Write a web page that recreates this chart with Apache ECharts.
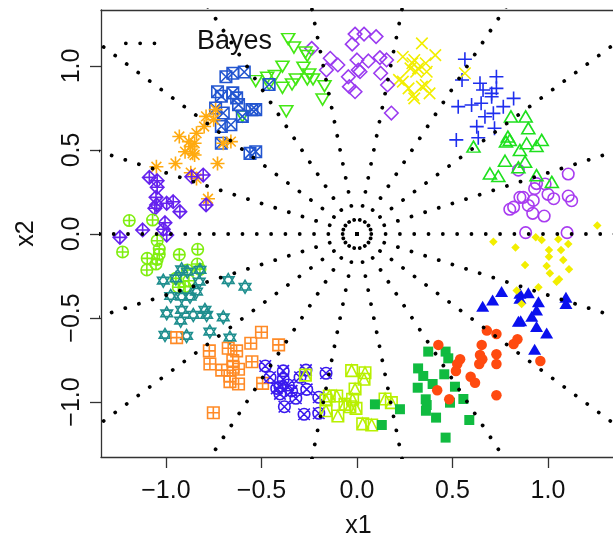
<!DOCTYPE html>
<html>
<head>
<meta charset="utf-8">
<script src="https://cdn.jsdelivr.net/npm/echarts@6/dist/echarts.min.js"></script>
<style>
html, body { margin: 0; padding: 0; background: #fff; }
#chart_id { width: 613px; height: 550px; }
</style>
</head>
<body>
<div id="chart_id"></div>
<script>
// tick labels
var xTicks = [-1.0, -0.5, 0.0, 0.5, 1.0];
var yTicks = [-1.0, -0.5, 0.0, 0.5, 1.0];

// Bayes boundaries (rays from the origin, degrees) and a small stray piece
var bayesAngles = [0, 20, 40, 60, 80, 100, 120, 140, 160, 180, 200, 220, 240, 260, 280, 300, 320, 340];
var bayesStub = [[-1.21, 1.135], [-0.99, 1.135]];

// points of each class, [x1, x2]
var cls01 = [[0.845,0.38],[1.106,0.357],[0.94,0.30],[0.985,0.298],[0.93,0.27],[1.00,0.236],[1.03,0.21],[0.853,0.218],[0.87,0.218],[0.923,0.20],[1.106,0.226],[1.124,0.198],[0.897,0.17],[0.82,0.16],[0.80,0.147],[0.92,0.123],[0.98,0.107],[0.883,0.008],[1.10,0.008]];
var cls02 = [[0.806,0.70],[0.883,0.70],[0.897,0.63],[0.61,0.52],[0.79,0.58],[0.80,0.56],[0.78,0.55],[0.853,0.50],[0.888,0.54],[0.94,0.524],[0.967,0.56],[0.775,0.436],[0.88,0.43],[0.845,0.397],[0.696,0.36],[0.74,0.345],[0.94,0.35],[1.02,0.31]];
var cls03 = [[0.565,1.04],[0.55,0.917],[0.644,0.897],[0.66,0.857],[0.73,0.936],[0.73,0.867],[0.705,0.837],[0.705,0.817],[0.82,0.807],[0.53,0.758],[0.60,0.768],[0.65,0.778],[0.766,0.758],[0.67,0.698],[0.714,0.718],[0.627,0.639],[0.72,0.629],[0.52,0.56],[0.635,0.573]];
var cls04 = [[0.34,1.135],[0.41,1.065],[0.24,1.055],[0.30,1.036],[0.29,1.016],[0.28,0.986],[0.36,1.016],[0.32,0.986],[0.31,0.966],[0.365,0.966],[0.22,0.917],[0.24,0.907],[0.27,0.867],[0.34,0.877],[0.36,0.887],[0.295,0.827],[0.30,0.807],[0.38,0.837],[0.565,0.957]];
var cls05 = [[-0.237,1.105],[-0.14,1.046],[-0.10,1.006],[-0.16,0.976],[-0.01,1.19],[-0.025,1.13],[0.0,1.036],[0.007,0.976],[-0.045,0.936],[-0.04,0.877],[-0.01,0.847],[0.037,1.19],[0.10,1.175],[0.06,1.03],[0.12,1.05],[0.155,1.036],[0.016,0.966],[0.124,0.957],[0.16,0.887],[0.18,0.72]];
var cls06 = [[-0.36,1.16],[-0.33,1.11],[-0.27,1.08],[-0.26,1.06],[-0.39,0.996],[-0.28,0.99],[-0.25,0.95],[-0.53,0.91],[-0.47,0.93],[-0.43,0.94],[-0.39,0.87],[-0.34,0.89],[-0.32,0.92],[-0.26,0.92],[-0.23,0.92],[-0.17,0.88],[-0.18,0.80],[-0.37,0.73],[-0.46,0.89],[-0.60,0.70]];
var cls07 = [[-0.686,0.936],[-0.65,0.957],[-0.59,0.964],[-0.73,0.847],[-0.71,0.82],[-0.65,0.84],[-0.63,0.81],[-0.62,0.77],[-0.55,0.74],[-0.53,0.74],[-0.74,0.75],[-0.70,0.72],[-0.71,0.64],[-0.66,0.65],[-0.71,0.54],[-0.56,0.48],[-0.53,0.49],[-0.46,0.89],[-0.60,0.70]];
var cls08 = [[-0.74,0.74],[-0.79,0.70],[-0.75,0.68],[-0.80,0.64],[-0.84,0.60],[-0.93,0.58],[-0.88,0.55],[-0.85,0.54],[-0.87,0.52],[-0.90,0.49],[-0.86,0.48],[-0.66,0.55],[-0.70,0.54],[-0.95,0.42],[-1.05,0.40],[-0.73,0.42],[-0.87,0.365],[-0.84,0.33],[-0.78,0.21],[-0.85,0.47]];
var cls09 = [[-1.087,0.337],[-1.046,0.317],[-1.046,0.278],[-1.052,0.218],[-1.049,0.173],[-0.996,0.183],[-0.962,0.192],[-0.927,0.133],[-1.058,0.153],[-1.005,0.067],[-1.014,0.028],[-0.996,-0.006],[-1.122,0.024],[-1.241,-0.02],[-0.805,0.351],[-0.865,0.341],[-0.79,0.173]];
var cls10 = [[-1.192,0.08],[-1.07,0.083],[-1.046,-0.04],[-1.227,-0.107],[-1.098,-0.145],[-1.035,-0.121],[-1.046,-0.151],[-1.052,-0.179],[-1.10,-0.214],[-0.93,-0.123],[-0.834,-0.091],[-0.836,-0.179],[-0.822,-0.21],[-0.888,-0.214],[-0.948,-0.264],[-0.88,-0.278],[-0.935,-0.317],[-0.90,-0.314],[-1.035,-0.09]];
var cls11 = [[-0.918,-0.21],[-1.014,-0.278],[-0.948,-0.264],[-0.888,-0.224],[-0.822,-0.214],[-0.826,-0.284],[-0.975,-0.369],[-0.918,-0.373],[-0.874,-0.373],[-0.84,-0.343],[-0.674,-0.274],[-0.586,-0.314],[-0.996,-0.472],[-0.918,-0.452],[-0.796,-0.452],[-0.923,-0.516],[-0.857,-0.482],[-0.787,-0.482],[-0.70,-0.496],[-1.005,-0.601],[-0.892,-0.607],[-0.77,-0.581],[-0.665,-0.617]];
var cls12 = [[-0.944,-0.617],[-0.50,-0.585],[-0.556,-0.65],[-0.41,-0.66],[-0.773,-0.696],[-0.674,-0.68],[-0.63,-0.696],[-0.77,-0.774],[-0.708,-0.81],[-0.65,-0.754],[-0.648,-0.793],[-0.62,-0.805],[-0.665,-0.845],[-0.665,-0.879],[-0.62,-0.893],[-0.55,-0.76],[-0.494,-0.889],[-0.752,-1.064]];
var cls13 = [[-0.48,-0.786],[-0.455,-0.853],[-0.386,-0.815],[-0.386,-0.865],[-0.403,-0.909],[-0.42,-0.919],[-0.36,-0.899],[-0.342,-0.934],[-0.32,-0.978],[-0.267,-0.81],[-0.263,-0.925],[-0.298,-0.853],[-0.162,-0.829],[-0.38,-1.028],[-0.277,-1.073],[-0.2,-1.067],[-0.2,-0.972],[-0.403,-0.952]];
var cls14 = [[-0.028,-0.813],[0.042,-0.826],[0.037,-0.865],[-0.01,-0.923],[-0.023,-0.984],[-0.005,-1.038],[0.147,-0.982],[0.18,-1.004],[0.03,-1.13],[0.077,-1.137],[-0.145,-0.964],[-0.106,-0.964],[-0.162,-0.988],[-0.063,-1.014],[-0.037,-1.028],[-0.162,-1.052],[-0.10,-1.083],[-0.27,-0.84]];
var cls15 = [[0.373,-0.70],[0.464,-0.70],[0.478,-0.74],[0.32,-0.80],[0.347,-0.845],[0.457,-0.835],[0.396,-0.893],[0.318,-0.915],[0.513,-0.909],[0.557,-0.982],[0.36,-0.984],[0.365,-1.018],[0.361,-1.052],[0.414,-1.093],[0.487,-1.004],[0.588,-1.107],[0.464,-1.212],[0.225,-1.043],[0.094,-1.014],[0.13,-1.137]];
var cls16 = [[0.68,-0.575],[0.73,-0.595],[0.426,-0.66],[0.653,-0.66],[0.84,-0.627],[0.82,-0.655],[0.54,-0.746],[0.525,-0.774],[0.644,-0.72],[0.656,-0.746],[0.64,-0.774],[0.73,-0.716],[0.73,-0.774],[0.518,-0.815],[0.595,-0.85],[0.618,-0.885],[0.42,-0.93],[0.483,-0.984],[0.73,-0.96],[0.96,-0.756]];
var cls17 = [[0.757,-0.343],[0.71,-0.393],[0.658,-0.43],[0.853,-0.353],[0.897,-0.35],[0.95,-0.403],[0.94,-0.452],[1.094,-0.377],[1.094,-0.413],[0.857,-0.516],[0.915,-0.49],[0.94,-0.55],[0.993,-0.59],[0.93,-0.686],[0.845,-0.52],[0.853,-0.383]];
var cls18 = [[1.258,0.05],[0.714,-0.046],[0.83,-0.08],[0.936,-0.02],[0.967,-0.036],[1.054,-0.032],[1.106,-0.06],[1.005,-0.095],[1.068,-0.095],[1.005,-0.135],[1.08,-0.155],[0.88,-0.185],[0.993,-0.19],[1.11,-0.21],[1.01,-0.234],[1.058,-0.27],[1.045,-0.284],[0.95,-0.317],[0.836,-0.337],[0.862,-0.417]];

var classData = [cls01, cls02, cls03, cls04, cls05, cls06, cls07, cls08, cls09,
                 cls10, cls11, cls12, cls13, cls14, cls15, cls16, cls17, cls18];

// plotting symbols (like R pch 1..18)
var P_CIRCLE = 'M10,5A5,5,0,1,1,0,5A5,5,0,1,1,10,5Z';
var classStyle = [
	{ sym: 'path://' + P_CIRCLE, size: 11.5, color: '#A83CF0', fill: false },
	{ sym: 'path://M5,0L10,8.66L0,8.66Z', size: [13, 11], color: '#1EE01E', fill: false },
	{ sym: 'path://M5,0L5,10M0,5L10,5', size: 14, color: '#1E2EEE', fill: false },
	{ sym: 'path://M0,0L10,10M10,0L0,10', size: 11.5, color: '#F2EE00', fill: false },
	{ sym: 'path://M5,0L10,5L5,10L0,5Z', size: 13.5, color: '#9A3AF0', fill: false },
	{ sym: 'path://M0,0L10,0L5,8.66Z', size: [13, 11], color: '#44E814', fill: false },
	{ sym: 'path://M0,0L10,0L10,10L0,10ZM0,0L10,10M10,0L0,10', size: 11.5, color: '#2255D0', fill: false },
	{ sym: 'path://M5,0L5,10M0,5L10,5M1.5,1.5L8.5,8.5M8.5,1.5L1.5,8.5', size: 14, color: '#FFAA10', fill: false },
	{ sym: 'path://M5,0L10,5L5,10L0,5ZM5,0L5,10M0,5L10,5', size: 13.5, color: '#6622EE', fill: false },
	{ sym: 'path://' + P_CIRCLE + 'M5,0L5,10M0,5L10,5', size: 11.5, color: '#80EE10', fill: false },
	{ sym: 'path://M5,0L9.33,7.5L0.67,7.5ZM5,10L9.33,2.5L0.67,2.5Z', size: [11.5, 13], color: '#1E8E8E', fill: false },
	{ sym: 'path://M0,0L10,0L10,10L0,10ZM5,0L5,10M0,5L10,5', size: 11.5, color: '#FF8A26', fill: false },
	{ sym: 'path://' + P_CIRCLE + 'M0,0L10,10M10,0L0,10', size: 11.5, color: '#3A1AEE', fill: false },
	{ sym: 'path://M0,0L10,0L10,10L0,10ZM0,10L5,0L10,10', size: 11.5, color: '#B8F000', fill: false },
	{ sym: 'rect', size: 10, color: '#10BB40', fill: true },
	{ sym: 'circle', size: 10.5, color: '#FF4A10', fill: true },
	{ sym: 'triangle', size: [13, 11], color: '#0A10EE', fill: true },
	{ sym: 'diamond', size: 8.5, color: '#F2EE00', fill: true }
];

var FONT = "'Liberation Sans', Arial, sans-serif";
var dotStyle = { color: '#000', width: 3.8, type: [0.01, 14.3], cap: 'round' };

function fmt(v) {
	return Number(v).toFixed(1).replace('-', '\u2212');
}

function chart_init() {
	var myChart = echarts.init(document.getElementById('chart_id'), null, { renderer: 'canvas' });

	var series = [];
	// class points
	$each(classData, function(i, pts) {
		var st = classStyle[i];
		series.push({
			type: 'scatter',
			data: pts,
			symbol: st.sym,
			symbolSize: st.size,
			z: 2,
			itemStyle: st.fill ? { color: st.color, opacity: 1 }
				: { color: 'rgba(0,0,0,0)', borderColor: st.color, borderWidth: 1.6, opacity: 1 }
		});
	});
	// dotted Bayes boundaries
	$each(bayesAngles, function(i, a) {
		var t = a * Math.PI / 180;
		series.push({
			type: 'line',
			data: [[0, 0], [3 * Math.cos(t), 3 * Math.sin(t)]],
			symbol: 'none',
			clip: true,
			silent: true,
			z: 5,
			lineStyle: dotStyle
		});
	});
	series.push({
		type: 'line', data: bayesStub, symbol: 'none', clip: true, silent: true, z: 5, lineStyle: dotStyle
	});

	var option = {
		animation: false,
		backgroundColor: '#fff',
		grid: { left: 101, top: 10, right: -3, bottom: 93, containLabel: false, outerBoundsMode: 'none' },
		xAxis: [{
			type: 'value',
			min: -1.34,
			max: 1.356,
			position: 'bottom',
			name: 'x1',
			nameLocation: 'middle',
			nameGap: 57,
			nameTextStyle: { fontSize: 25, fontFamily: FONT, color: '#111' },
			splitLine: { show: false },
			axisLine: { show: true, onZero: false, lineStyle: { color: '#333', width: 1.3 } },
			axisTick: { show: true, inside: false, length: 11, customValues: xTicks, lineStyle: { color: '#333', width: 1.3 } },
			axisLabel: { show: true, customValues: xTicks, formatter: fmt, margin: 22, fontSize: 25, fontFamily: FONT, color: '#111' }
		}, {
			type: 'value',
			min: -1.34,
			max: 1.356,
			position: 'top',
			splitLine: { show: false },
			axisLine: { show: true, onZero: false, lineStyle: { color: '#333', width: 1.3 } },
			axisTick: { show: false },
			axisLabel: { show: false }
		}],
		yAxis: {
			type: 'value',
			min: -1.3274,
			max: 1.3333,
			name: 'x2',
			nameLocation: 'middle',
			nameGap: 62,
			nameRotate: 90,
			nameTextStyle: { fontSize: 25, fontFamily: FONT, color: '#111' },
			splitLine: { show: false },
			axisLine: { show: true, onZero: false, lineStyle: { color: '#333', width: 1.3 } },
			axisTick: { show: true, inside: false, length: 11, customValues: yTicks, lineStyle: { color: '#333', width: 1.3 } },
			axisLabel: { show: true, customValues: yTicks, formatter: fmt, rotate: 90, margin: 16, fontSize: 25, fontFamily: FONT, color: '#111' }
		},
		graphic: [{
			type: 'text',
			left: 197,
			top: 28,
			z: 10,
			style: { text: 'Bayes', fontSize: 27, fontFamily: FONT, fill: '#111' }
		}],
		series: series
	};

	myChart.setOption(option);
}

function $each(arr, fn) {
	for (var i = 0; i < arr.length; i++) fn(i, arr[i]);
}

chart_init();
</script>
</body>
</html>
